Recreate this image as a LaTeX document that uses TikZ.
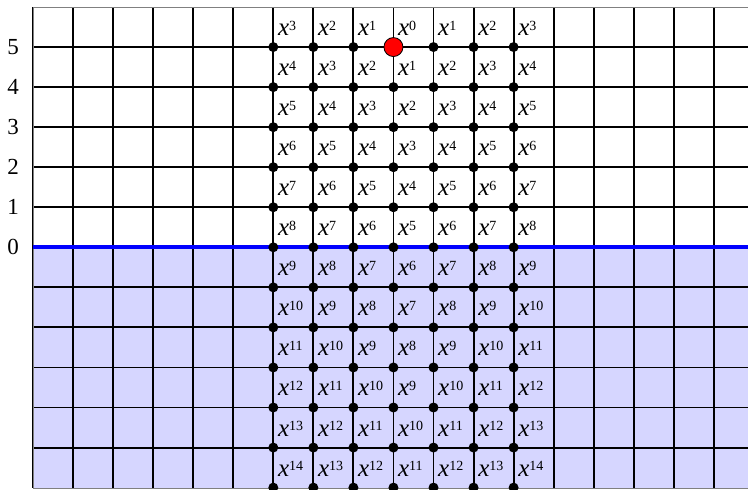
\documentclass[tikz,border=0pt]{standalone}
\usepackage{fontspec}
\setmainfont{Liberation Serif}
\definecolor{lowfill}{RGB}{214,214,255}
\newcommand\xpow[1]{\textit{x}\raisebox{5.5pt}{\fontsize{14}{14}\selectfont #1}}
\begin{document}
\begin{tikzpicture}[x=1pt,y=-1pt,
  gridline/.style={line width=1.9pt,black},
  framel/.style={line width=1pt,gray},
  axisline/.style={line width=4.3pt,blue},
  dotb/.style={circle,fill=black,inner sep=0pt,minimum size=10pt},
  dotr/.style={circle,fill=red,draw=black,line width=0.8pt,inner sep=0pt,minimum size=19pt},
  celllabel/.style={anchor=base west,inner sep=0pt,font=\fontsize{25}{25}\selectfont},
  axislabel/.style={anchor=center,inner sep=0pt,font=\fontsize{23}{23}\selectfont}]
\useasboundingbox (0,0) rectangle (748,490);
\clip (0,0) rectangle (748,490);
% shaded lower half
\fill[lowfill] (33,247.3) rectangle (770,488);
% grid
\foreach \k in {0,...,17}
  \draw[gridline] ({33+40.05*\k},7) -- ({33+40.05*\k},488);
\foreach \k in {1,...,11}
  \draw[gridline] (33,{7+40.05*\k}) -- (770,{7+40.05*\k});
\draw[framel] (33,7) rectangle (770,488);
% zero line
\coordinate (zl) at (33,247.3);
\coordinate (zr) at (770,247.3);
\draw[axisline] (zl) -- (zr);
% axis labels
\foreach \n in {0,...,5}
  \node[axislabel] (ax-\n) at (13,{247.3-40.05*\n}) {\n};
% cell labels
\foreach \c in {0,...,6}
  \foreach \r in {0,...,11}{
    \pgfmathtruncatemacro\e{\r+abs(\c-3)}
    \node[celllabel] (lab-\c-\r) at ({33+40.05*(6+\c)+4.5},{7+40.05*\r+28.5}) {\xpow{\e}};
  }
% dots
\foreach \c in {0,...,6}
  \foreach \r in {0,...,11}{
    \ifnum\c=3 \ifnum\r=0 \else
      \node[dotb] (d-\c-\r) at ({33+40.05*(6+\c)},{7+40.05*(\r+1)}) {};
    \fi\else
      \node[dotb] (d-\c-\r) at ({33+40.05*(6+\c)},{7+40.05*(\r+1)}) {};
    \fi
  }
\node[dotr] (origin) at ({33+40.05*9},{7+40.05}) {};
\end{tikzpicture}
\end{document}
